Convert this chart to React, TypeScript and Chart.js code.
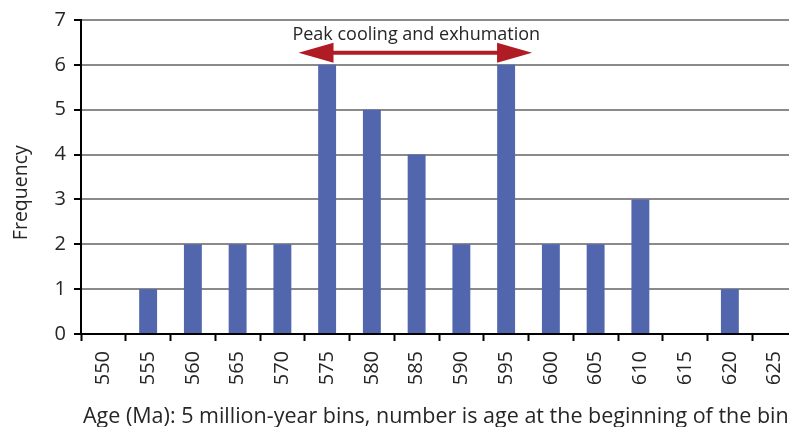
import React, { useEffect, useRef } from "react";
import { Chart, registerables } from "chart.js";

Chart.register(...registerables);

const categories = ["550", "555", "560", "565", "570", "575", "580", "585", "590", "595", "600", "605", "610", "615", "620", "625"];
const frequency = [0, 1, 2, 2, 2, 6, 5, 4, 2, 6, 2, 2, 3, 0, 1, 0];
const yTicks = [0, 1, 2, 3, 4, 5, 6, 7];
const yTitle = "Frequency";
const xTitle = "Age (Ma): 5 million-year bins, number is age at the beginning of the bin";
const annotationText = "Peak cooling and exhumation";
const arrowFrom = "575";
const arrowTo = "595";
const arrowValue = 6.27;
const annotationTextValue = 6.66;
const yTitleValue = 3.15;

const FONT = "'Open Sans', sans-serif";
const TEXT = "#262626";

const arrowPlugin = {
  id: "peakArrow",
  afterDatasetsDraw(chart: any) {
    const { ctx } = chart;
    const x = chart.scales.x;
    const y = chart.scales.y;
    const cat = x.getPixelForValue(1) - x.getPixelForValue(0);
    const xl = x.getPixelForValue(categories.indexOf(arrowFrom)) - 0.64 * cat;
    const xr = x.getPixelForValue(categories.indexOf(arrowTo)) + 0.58 * cat;
    const ya = y.getPixelForValue(arrowValue);
    const head = 35;
    const half = 10;
    ctx.save();
    ctx.strokeStyle = "#B01C24";
    ctx.fillStyle = "#B01C24";
    ctx.lineWidth = 4;
    ctx.beginPath();
    ctx.moveTo(xl + head - 2, ya);
    ctx.lineTo(xr - head + 2, ya);
    ctx.stroke();
    ctx.beginPath();
    ctx.moveTo(xl, ya);
    ctx.lineTo(xl + head, ya - half);
    ctx.lineTo(xl + head, ya + half);
    ctx.closePath();
    ctx.fill();
    ctx.beginPath();
    ctx.moveTo(xr, ya);
    ctx.lineTo(xr - head, ya - half);
    ctx.lineTo(xr - head, ya + half);
    ctx.closePath();
    ctx.fill();
    ctx.fillStyle = TEXT;
    ctx.font = `18px ${FONT}`;
    ctx.textAlign = "center";
    ctx.textBaseline = "middle";
    ctx.fillText(annotationText, (xl + xr) / 2 + 1, y.getPixelForValue(annotationTextValue));
    // x axis title
    ctx.font = `21.5px ${FONT}`;
    ctx.textAlign = "left";
    ctx.textBaseline = "alphabetic";
    ctx.fillText(xTitle, x.left + 2, chart.height - 4.5);
    // y axis title
    ctx.textAlign = "center";
    ctx.textBaseline = "middle";
    ctx.translate(21, y.getPixelForValue(yTitleValue));
    ctx.rotate(-Math.PI / 2);
    ctx.font = `19.5px ${FONT}`;
    ctx.fillText(yTitle, 0, 0);
    ctx.restore();
  },
};

export default function App() {
  const ref = useRef<HTMLCanvasElement | null>(null);
  useEffect(() => {
    if (!ref.current) return;
    const chart = new Chart(ref.current, {
      type: "bar",
      data: {
        labels: categories,
        datasets: [
          {
            data: frequency,
            backgroundColor: "#5166AD",
            borderWidth: 0,
            barPercentage: 0.4,
            categoryPercentage: 1,
          },
        ],
      },
      options: {
        animation: false,
        responsive: false,
        maintainAspectRatio: false,
        layout: { padding: { left: 0, right: 8, top: 19, bottom: 0 } },
        plugins: { legend: { display: false }, tooltip: { enabled: false } },
        scales: {
          x: {
            afterFit(scale: any) {
              scale.height = 93;
              scale.paddingLeft = 0;
              scale.paddingRight = 0;
            },
            grid: {
              offset: true,
              drawOnChartArea: false,
              drawTicks: true,
              tickLength: 7,
              tickColor: "#000",
              tickWidth: 2,
            },
            border: { color: "#000", width: 2 },
            ticks: {
              minRotation: 90,
              maxRotation: 90,
              padding: 10,
              color: TEXT,
              font: { family: FONT, size: 20 },
            },
          },
          y: {
            min: 0,
            max: 7,
            afterFit(scale: any) {
              scale.width = 81;
            },
            afterBuildTicks(scale: any) {
              scale.ticks = yTicks.map((v) => ({ value: v }));
            },
            grid: {
              color: "#8A8A8A",
              lineWidth: 2,
              tickColor: "#000",
              tickWidth: 2,
              tickLength: 7,
            },
            border: { color: "#000", width: 2 },
            ticks: {
              padding: 8,
              color: TEXT,
              font: { family: FONT, size: 20 },
            },
          },
        },
      },
      plugins: [arrowPlugin],
    });
    return () => chart.destroy();
  }, []);
  return (
    <div style={{ position: "fixed", left: 0, top: 0, width: 789, height: 427, overflow: "hidden", background: "#fff" }}>
      <canvas ref={ref} width={805} height={427} style={{ display: "block", width: 805, height: 427 }} />
    </div>
  );
}
